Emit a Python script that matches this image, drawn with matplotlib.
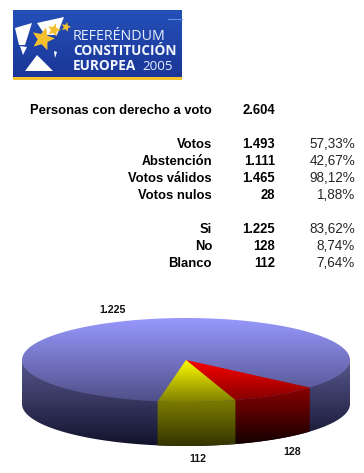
"""Referendum results: logo banner, vote table and 3D pie."""

import numpy as np
import matplotlib
matplotlib.use("Agg")
import matplotlib.pyplot as plt
import matplotlib.patches as mpatches
from matplotlib.colors import LinearSegmentedColormap

plt.rcParams["font.family"] = ["Liberation Sans", "DejaVu Sans"]
plt.rcParams["text.hinting"] = "no_autohint"

# Data
total_label = "Personas con derecho a voto"
total_value = "2.604"
turnout_labels = ["Votos", "Abstención", "Votos válidos", "Votos nulos"]
turnout_values = ["1.493", "1.111", "1.465", "28"]
turnout_pcts = ["57,33%", "42,67%", "98,12%", "1,88%"]
result_labels = ["Si", "No", "Blanco"]
result_values = ["1.225", "128", "112"]
result_pcts = ["83,62%", "8,74%", "7,64%"]
pie_values = [1225, 128, 112]
pie_labels = ["1.225", "128", "112"]

fig = plt.figure(figsize=(3.64, 4.73), dpi=100, facecolor="white")
ax = fig.add_axes([0, 0, 1, 1])
ax.axis("off")


def gradient(clip, y0, y1, c0, c1, x0=0, x1=364):
    # vertical gradient from c0 at y0 to c1 at y1, clipped to a polygon
    cmap = LinearSegmentedColormap.from_list("g", [c0, c1])
    grad = np.linspace(0, 1, 256).reshape(-1, 1)
    im = ax.imshow(grad, cmap=cmap, extent=(x0, x1, y1, y0), aspect="auto",
                   interpolation="bilinear", vmin=0, vmax=1)
    patch = mpatches.Polygon(clip, closed=True, transform=ax.transData,
                             facecolor="none", edgecolor="none")
    ax.add_patch(patch)
    im.set_clip_path(patch)


def star(cx, cy, r, rot=0):
    ang = np.radians(np.arange(10) * 36 - 90 + rot)
    rad = np.where(np.arange(10) % 2 == 0, r, r * 0.45)
    return np.c_[cx + rad * np.cos(ang), cy + rad * np.sin(ang)]


# --- Logo banner ---
banner = [(13, 10), (182, 10), (182, 77), (13, 77)]
gradient(banner, 10, 77, "#2450b8", "#1b3698")
ax.add_patch(mpatches.Rectangle((13, 77), 169, 3, facecolor="#f4c430",
                                edgecolor="none"))
ax.plot([168, 182], [19, 19], color="#5f8fe0", lw=0.8)
white_shapes = [
    [(15, 28), (32, 23), (25, 45), (19, 45)],
    [(37, 23), (64, 17), (57, 35), (45, 35)],
    [(20, 46), (27, 47), (23, 55)],
    [(54, 51), (57, 52), (55, 58)],
    [(25, 71), (37, 55), (53, 71)],
]
for pts in white_shapes:
    ax.add_patch(mpatches.Polygon(pts, closed=True, facecolor="white",
                                  edgecolor="none"))
for cx, cy, r, rot in [(43, 39, 12, 15), (54, 30, 7, 15), (66, 27, 5, 15)]:
    ax.add_patch(mpatches.Polygon(star(cx, cy, r, rot), closed=True,
                                  facecolor="#f5c02e", edgecolor="none"))
ax.text(73, 36, "REFERÉNDUM", color="#e8eefc", fontsize=10.3, va="center",
        family=["Open Sans", "DejaVu Sans"])
ax.text(73, 51, "CONSTITUCIÓN", color="#f4f6fd", fontsize=9.8, va="center",
        family=["Open Sans", "DejaVu Sans"], fontweight="bold")
ax.text(73, 66, "EUROPEA", color="#f4f6fd", fontsize=9.8, va="center",
        family=["Open Sans", "DejaVu Sans"], fontweight="bold")
ax.text(142, 66, "2005", color="#e8eefc", fontsize=9.6, va="center",
        family=["Open Sans", "DejaVu Sans"])

# --- Table ---
x_label, x_value, x_pct = 212, 275, 355
table_size = 9.4
ax.text(x_label, 114, total_label, ha="right", va="baseline",
        fontsize=table_size, fontweight="bold", color="black")
ax.text(x_value, 114, total_value, ha="right", va="baseline",
        fontsize=table_size, fontweight="bold", color="black")

rows = [(148 + 17 * i, turnout_labels[i], turnout_values[i], turnout_pcts[i])
        for i in range(len(turnout_labels))]
rows += [(233 + 17 * i, result_labels[i], result_values[i], result_pcts[i])
         for i in range(len(result_labels))]
for y, lab, val, pct in rows:
    ax.text(x_label, y, lab, ha="right", va="baseline", fontsize=table_size,
            fontweight="bold", color="black")
    ax.text(x_value, y, val, ha="right", va="baseline", fontsize=table_size,
            fontweight="bold", color="black")
    ax.text(x_pct, y, pct, ha="right", va="baseline", fontsize=9.7,
            color="#222222")

# --- 3D pie ---
cx, cy, rx, ry, depth = 186, 360, 164, 42, 44
start_angle = -41  # red edge on the right
shares = np.array(pie_values) / sum(pie_values) * 360

# slices run clockwise: No and Blanco from the start angle, Si takes the rest
no_a = (start_angle, start_angle - shares[1])
blanco_a = (no_a[1], no_a[1] - shares[2])


def arc(a0, a1, dy=0, n=120):
    t = np.radians(np.linspace(a0, a1, n))
    return np.c_[cx + rx * np.cos(t), cy - ry * np.sin(t) + dy]


def wedge(a0, a1):
    return np.vstack([[cx, cy], arc(a0, a1)])


def wall(a0, a1):
    # top edge pulled up a pixel so no white seam shows under the top face
    return np.vstack([arc(a0, a1, -1), arc(a1, a0, depth)])


top_y0, top_y1 = cy - ry, cy + ry
bot = cy + ry + depth

# Si goes down as a whole disc, the two small slices are painted over it
gradient(wall(0, -180), cy, bot, "#58588f", "#12122c")
gradient(wall(no_a[0], no_a[1] - 1), top_y1 - 20, bot, "#980000", "#100000")
gradient(wall(*blanco_a), top_y1 - 4, bot, "#808000", "#343400")

gradient(arc(0, 360), top_y0, top_y1, "#9999ff", "#4f4f88")
gradient(wedge(no_a[0], no_a[1] - 1), cy, top_y1, "#ff0000", "#800000")
gradient(wedge(*blanco_a), cy, top_y1, "#ffff00", "#808000")

label_size = 7.6
ax.text(113, 313, pie_labels[0], ha="center", va="baseline", fontsize=label_size,
        fontweight="bold", color="#111111")
ax.text(292, 455, pie_labels[1], ha="center", va="baseline", fontsize=label_size,
        fontweight="bold", color="#111111")
ax.text(198, 462, pie_labels[2], ha="center", va="baseline", fontsize=label_size,
        fontweight="bold", color="#111111")

ax.set_xlim(0, 364)
ax.set_ylim(473, 0)

fig.savefig("out.png", dpi=100, facecolor="white")
